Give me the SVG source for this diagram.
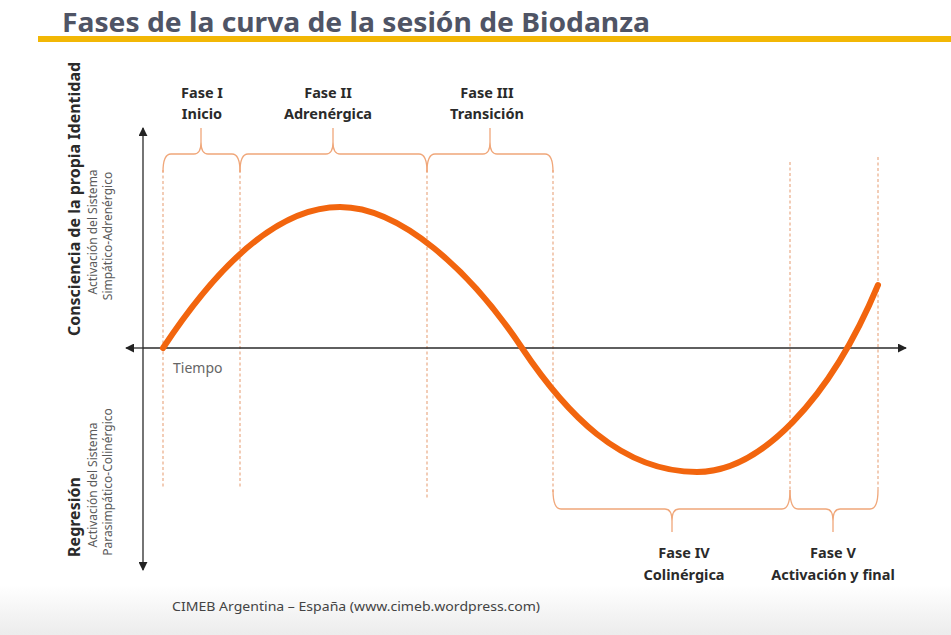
<svg xmlns="http://www.w3.org/2000/svg" width="951" height="635" viewBox="0 0 951 635">
<defs>
<linearGradient id="bottomFade" x1="0" y1="0" x2="0" y2="1">
<stop offset="0" stop-color="#ffffff"/>
<stop offset="1" stop-color="#ececec"/>
</linearGradient>
<marker id="arrow" viewBox="0 0 10 10" refX="9" refY="5" markerWidth="9" markerHeight="9" markerUnits="userSpaceOnUse" orient="auto">
<path d="M0,0 L10,5 L0,10 Z" fill="#222"/>
</marker>
<style>
.title{font-family:"Noto Sans","Open Sans",sans-serif;font-size:26px;font-weight:bold;fill:#4f5465}
.phase{font-family:"Noto Sans","Open Sans",sans-serif;font-size:14.5px;font-weight:bold;fill:#2a2a2a;text-anchor:middle}
.axisBold{font-family:"Noto Sans","Open Sans",sans-serif;font-size:16px;font-weight:bold;fill:#2a2a2a;text-anchor:middle}
.axisSub{font-family:"Noto Sans","Open Sans",sans-serif;font-size:12px;fill:#5a5a5a;text-anchor:middle}
.small{font-family:"Noto Sans","Open Sans",sans-serif;font-size:14px;fill:#666}
.foot{font-family:"Noto Sans","Open Sans",sans-serif;font-size:13px;fill:#444}
.axis{stroke:#2a2a2a;stroke-width:1.3;fill:none}
.guide{stroke:#e9ab86;stroke-width:1.2;stroke-dasharray:3 2.5;fill:none}
.brace{stroke:#f0a77a;stroke-width:1.3;fill:none}
.curve{stroke:#f2650e;stroke-width:6;fill:none;stroke-linecap:round;stroke-linejoin:round}
</style>
</defs>
<rect x="0" y="0" width="951" height="635" fill="#ffffff"/>
<rect x="0" y="585" width="951" height="50" fill="url(#bottomFade)"/>

<g id="title">
<text class="title" x="62" y="32" textLength="588" lengthAdjust="spacingAndGlyphs">Fases de la curva de la sesión de Biodanza</text>
<rect x="38" y="36" width="913" height="6" fill="#f2b705"/>
</g>

<g id="guides">
<line class="guide" x1="163" y1="170" x2="163" y2="487"/>
<line class="guide" x1="240" y1="170" x2="240" y2="487"/>
<line class="guide" x1="427" y1="170" x2="427" y2="498"/>
<line class="guide" x1="553" y1="170" x2="553" y2="492"/>
<line class="guide" x1="790" y1="162" x2="790" y2="492"/>
<line class="guide" x1="878" y1="157" x2="878" y2="492"/>
</g>

<g id="connectors">
<line class="axis" x1="143" y1="568" x2="143" y2="128" marker-end="url(#arrow)"/>
<line class="axis" x1="143" y1="568" x2="143" y2="570" marker-end="url(#arrow)"/>
<line class="axis" x1="143" y1="348" x2="906" y2="348" marker-end="url(#arrow)"/>
<line class="axis" x1="143" y1="348" x2="126" y2="348" marker-end="url(#arrow)"/>
</g>

<g id="curve">
<path class="curve" d="M163,348 C200,292 265,207 340,207 C400,207 470,270 522,348 C565,412 620,472 697,472 C760,472 830,400 878,285"/>
</g>

<g id="phase1">
<path class="brace" d="M163,172 Q163,154 171,154 L194,154 Q201,154 201,142 L201,128 M201,142 Q201,154 208,154 L232,154 Q240,154 240,172"/>
<text class="phase" x="202" y="98">Fase I</text>
<text class="phase" x="202" y="119">Inicio</text>
</g>

<g id="phase2">
<path class="brace" d="M240,172 Q240,154 248,154 L326,154 Q333,154 333,142 L333,128 M333,142 Q333,154 340,154 L419,154 Q427,154 427,172"/>
<text class="phase" x="328" y="98">Fase II</text>
<text class="phase" x="328" y="119">Adrenérgica</text>
</g>

<g id="phase3">
<path class="brace" d="M427,172 Q427,154 435,154 L483,154 Q490,154 490,142 L490,128 M490,142 Q490,154 497,154 L545,154 Q553,154 553,172"/>
<text class="phase" x="487" y="98">Fase III</text>
<text class="phase" x="487" y="119">Transición</text>
</g>

<g id="phase4">
<path class="brace" d="M553,490 Q553,509 561,509 L665,509 Q672,509 672,521 L672,532 M672,521 Q672,509 679,509 L782,509 Q790,509 790,490"/>
<text class="phase" x="684" y="558">Fase IV</text>
<text class="phase" x="684" y="580">Colinérgica</text>
</g>

<g id="phase5">
<path class="brace" d="M790,490 Q790,509 798,509 L826,509 Q833,509 833,521 L833,532 M833,521 Q833,509 840,509 L870,509 Q878,509 878,490"/>
<text class="phase" x="833" y="558">Fase V</text>
<text class="phase" x="833" y="580">Activación y final</text>
</g>

<g id="axisLabelTop">
<text class="axisBold" transform="translate(80,199) rotate(-90)">Consciencia de la propia Identidad</text>
<text class="axisSub" transform="translate(97,232) rotate(-90)">Activación del Sistema</text>
<text class="axisSub" transform="translate(112,236) rotate(-90)">Simpático-Adrenérgico</text>
</g>

<g id="axisLabelBottom">
<text class="axisBold" transform="translate(80,517) rotate(-90)">Regresión</text>
<text class="axisSub" transform="translate(97,485) rotate(-90)">Activación del Sistema</text>
<text class="axisSub" transform="translate(112,482) rotate(-90)">Parasimpático-Colinérgico</text>
</g>

<g id="timeLabel">
<text class="small" x="173" y="373">Tiempo</text>
</g>

<g id="footer">
<text class="foot" x="172" y="611" textLength="368" lengthAdjust="spacingAndGlyphs">CIMEB Argentina – España (www.cimeb.wordpress.com)</text>
</g>
</svg>
